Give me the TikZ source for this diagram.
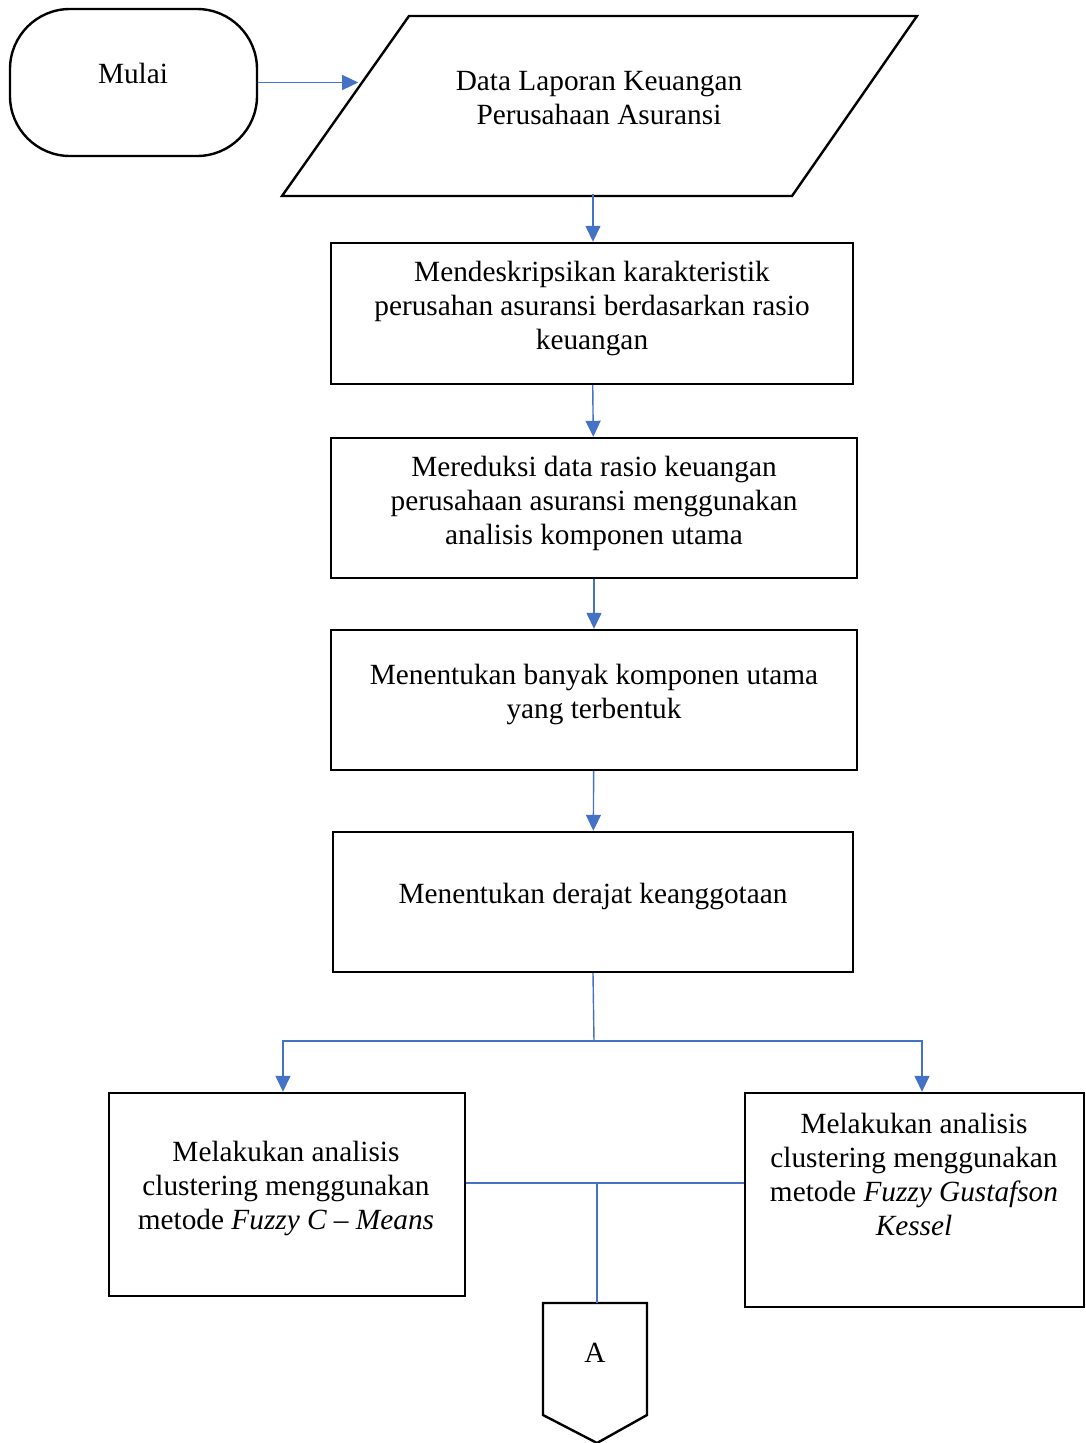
\documentclass[tikz,border=0pt]{standalone}
\usepackage{fontspec}
\setmainfont{Liberation Serif}
\usepackage{tikz}
\usetikzlibrary{arrows.meta,positioning}
\definecolor{arrowblue}{HTML}{4472C4}

\begin{document}
\begin{tikzpicture}[x=1pt,y=-1pt]
\tikzset{box/.style = {shape=rectangle,draw,line width=2.4pt,inner sep=0pt}}
\tikzset{txt/.style = {align=center,inner sep=0pt,font=\fontsize{29.3}{34}\selectfont}}
\tikzset{link/.style = {draw=arrowblue,line width=1.4pt}}
\tikzset{edge/.style = {link,-{Triangle[length=16pt,width=15pt]}}}

\useasboundingbox (0,0) rectangle (1085,1443);

\node[box,rounded corners=60pt,minimum width=247pt,minimum height=147pt] (mulai) at (133.5,82.5) {};
\node[txt] (mulai-t) at (133,73) {Mulai};

% jajar genjang data
\draw[line width=2.4pt,line join=miter] (409,16) -- (917,16) -- (792,196) -- (282,196) -- cycle;
\node[txt] (data) at (599,98) {Data Laporan Keuangan\\Perusahaan Asuransi};
\coordinate (data-b) at (593,194);

\node[box,minimum width=522pt,minimum height=141pt] (deskripsi) at (592,313.5) {};
\node[txt] (deskripsi-t) at (592,308.5) {Mendeskripsikan karakteristik\\perusahan asuransi berdasarkan rasio\\keuangan};

\node[box,minimum width=526pt,minimum height=140pt] (reduksi) at (594,508) {};
\node[txt] (reduksi-t) at (594,503.5) {Mereduksi data rasio keuangan\\perusahaan asuransi menggunakan\\analisis komponen utama};

\node[box,minimum width=526pt,minimum height=140pt] (banyak) at (594,700) {};
\node[txt] (banyak-t) at (594,694.5) {Menentukan banyak komponen utama\\yang terbentuk};

\node[box,minimum width=520pt,minimum height=140pt] (derajat) at (593,902) {};
\node[txt] (derajat-t) at (593,896.5) {Menentukan derajat keanggotaan};

\node[box,minimum width=356pt,minimum height=203pt] (fcm) at (287,1194.5) {};
\node[txt] (fcm-t) at (286,1188.5) {Melakukan analisis\\clustering menggunakan\\metode \textit{Fuzzy C -- Means}};

\node[box,minimum width=339pt,minimum height=214pt] (fgk) at (914.5,1200) {};
\node[txt] (fgk-t) at (914,1174) {Melakukan analisis\\clustering menggunakan\\metode \textit{Fuzzy Gustafson}\\\textit{Kessel}};

% konektor ke halaman berikutnya
\draw[line width=2.4pt,line join=miter] (543,1303) -- (647,1303) -- (647,1415) -- (597,1443) -- (543,1415) -- cycle;
\node[txt] (a) at (595,1353) {A};

\coordinate (split) at (594,1041);
\coordinate (mid) at (597,1183);
\coordinate (a-top) at (597,1303);

\draw[edge] (mulai.east) -- ++(100,0);
\draw[edge] (data-b) -- (data-b |- deskripsi.north);
\draw[edge] (deskripsi) -- (reduksi);
\draw[edge] (reduksi) -- (banyak);
\draw[edge] (banyak) -- (derajat);
\draw[link] (derajat.south) -- (split);
\draw[edge] (split) -| ([xshift=-4pt]fcm.north);
\draw[edge] (split) -| ([xshift=7.5pt]fgk.north);
\draw[link] (fcm.east |- mid) -- (fgk.west |- mid);
\draw[link] (mid) -- (a-top);

\end{tikzpicture}
\end{document}
